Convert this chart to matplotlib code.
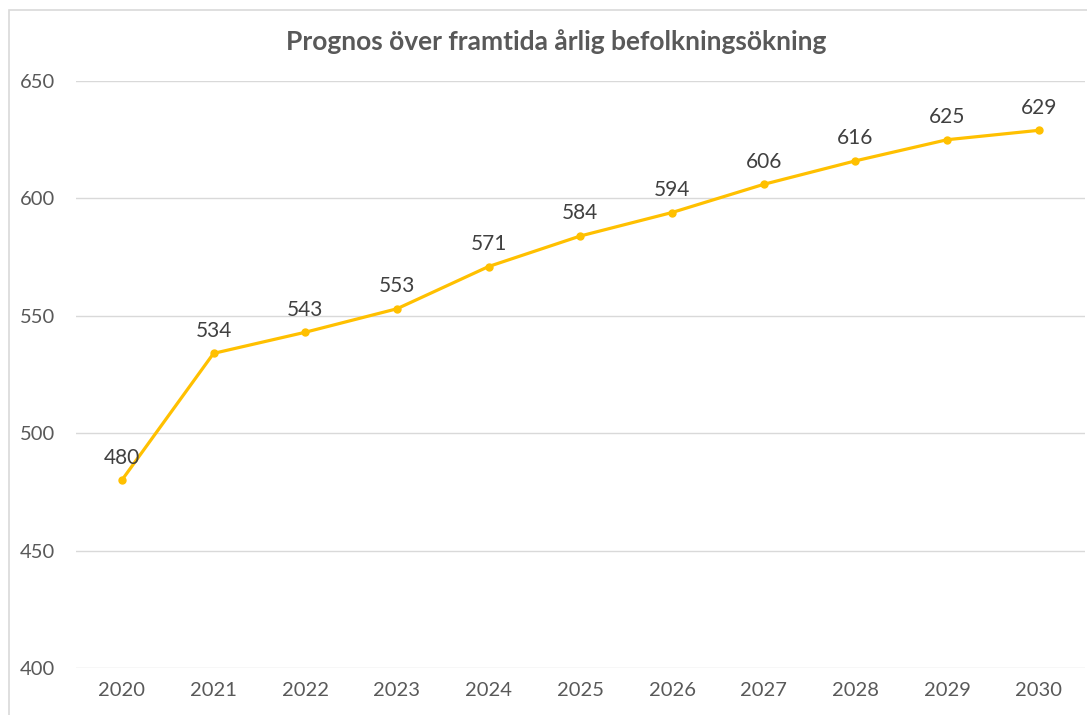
import matplotlib.pyplot as plt
from matplotlib.patches import Rectangle

years = ['2020', '2021', '2022', '2023', '2024', '2025',
         '2026', '2027', '2028', '2029', '2030']
increase = [480, 534, 543, 553, 571, 584, 594, 606, 616, 625, 629]
y_ticks = [400, 450, 500, 550, 600, 650]

plt.rcParams['font.family'] = ['Lato', 'DejaVu Sans']

fig = plt.figure(figsize=(10.87, 7.15), dpi=100)
ax = fig.add_axes([0.0699, 0.0657, 0.928, 0.821])

# chart frame, cut off at right and bottom like the screenshot
fig.patches.append(Rectangle((9 / 1087, -0.1), 1.2, 1.1 - 10 / 715,
                             transform=fig.transFigure, fill=False,
                             edgecolor='#D9D9D9', linewidth=1.2))

x = list(range(len(years)))
ax.plot(x, increase, color='#FFC000', linewidth=2.3, marker='o',
        markersize=5, zorder=3)
for xi, v in zip(x, increase):
    ax.annotate(str(v), (xi, v), xytext=(0, 9), textcoords='offset points',
                ha='center', va='bottom', fontsize=15, color='#404040')

ax.set_xlim(-0.5, len(years) - 0.5)
ax.set_ylim(400, 650)
ax.set_yticks(y_ticks)
ax.set_xticks(x)
ax.set_xticklabels(years)
ax.grid(axis='y', color='#D9D9D9', linewidth=1)
ax.set_axisbelow(True)
for s in ax.spines.values():
    s.set_visible(False)
ax.tick_params(length=0, labelsize=14.5, labelcolor='#595959')
ax.tick_params(axis='y', pad=15)
ax.tick_params(axis='x', pad=10)

fig.text(556 / 1087, 1 - 42 / 715, 'Prognos över framtida årlig befolkningsökning',
         ha='center', va='center', fontsize=19, fontweight='bold', color='#595959')

fig.savefig('out.png', dpi=100)
